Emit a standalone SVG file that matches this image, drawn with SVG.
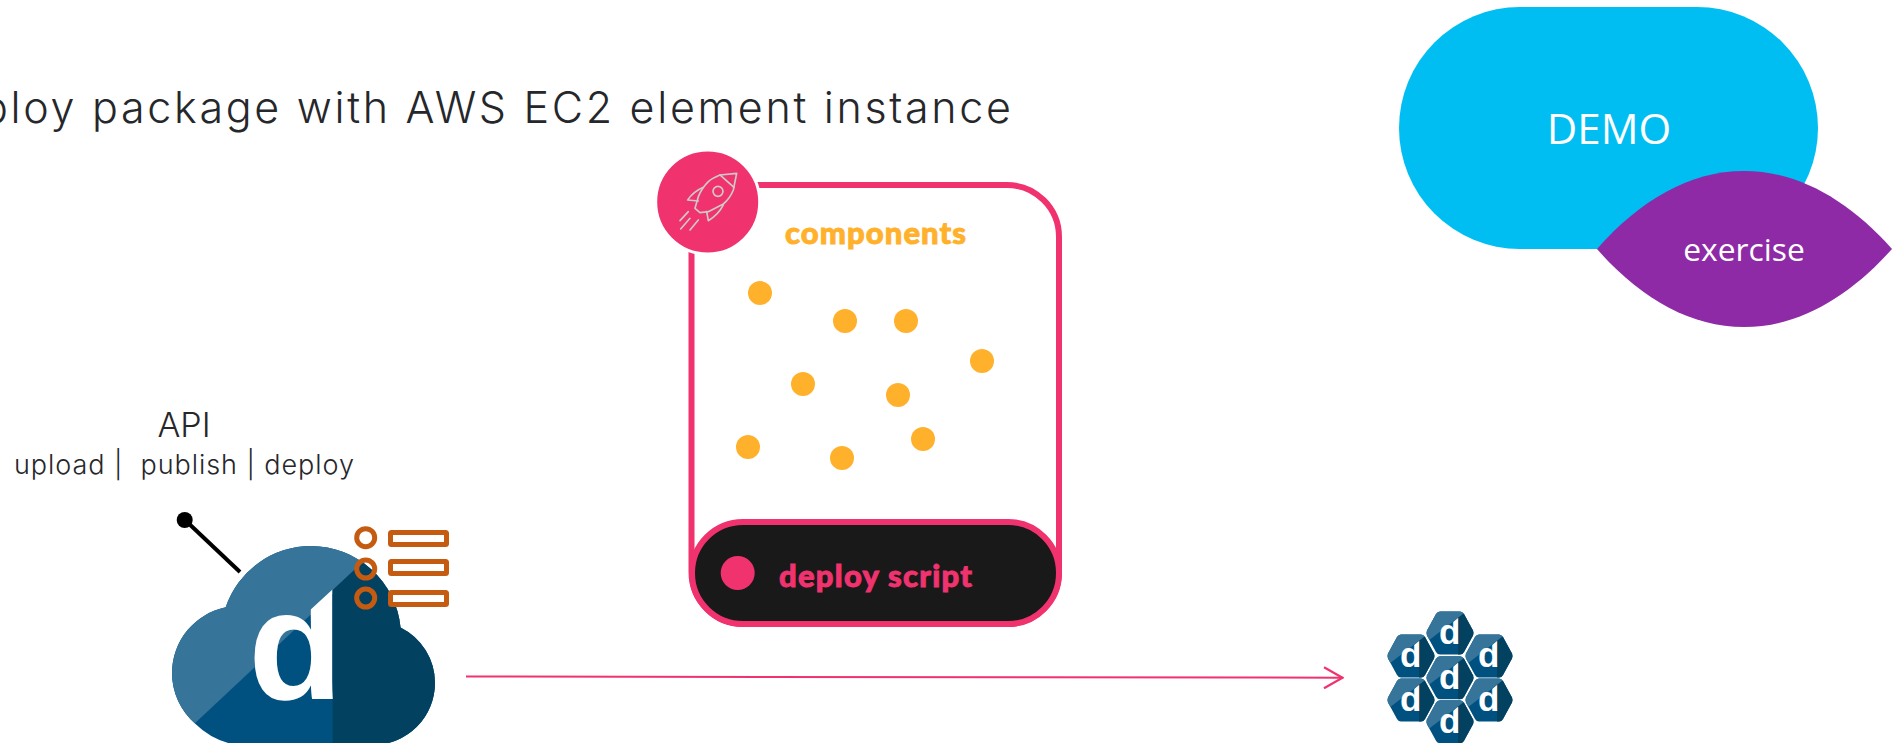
<svg xmlns="http://www.w3.org/2000/svg" width="1901" height="743" viewBox="0 0 1901 743">
<style>
.t{font-family:"Inter","Liberation Sans",sans-serif;fill:#26272b;font-weight:300}
.b{font-family:"Lato","Liberation Sans",sans-serif;font-weight:900;stroke-width:.9}
.o{font-family:"Open Sans","Liberation Sans",sans-serif;fill:#fff;text-anchor:middle}
.dot{fill:#ffb12b}
.ic{fill:none;stroke:#cfc9c9;stroke-width:5;stroke-linejoin:round;stroke-linecap:round}
.or{stroke:#c55a11;stroke-width:5}
.dl{font-family:"Liberation Sans",sans-serif;font-weight:700;fill:#fff;text-anchor:end}
</style>
<defs>
<marker id="arr" viewBox="0 0 22 24" refX="20.5" refY="12" markerWidth="22" markerHeight="24" markerUnits="userSpaceOnUse" orient="auto"><path d="M1.5 1.5L20 12L1.5 22.5" fill="none" stroke="#f0326f" stroke-width="2.2"/></marker>
<clipPath id="cloud"><circle cx="311" cy="636" r="90"/><circle cx="239" cy="673" r="67"/><circle cx="373" cy="683" r="62"/><rect x="239" y="660" width="134" height="90"/><path d="M172 673A78 78 0 0 0 250 746L250 673Z"/></clipPath>
<clipPath id="cloudT"><polygon points="150,612 308,612 333,589 345,589 345,800 150,800"/></clipPath>
<clipPath id="hexC"><path d="M-23 -2.5L-14 -19Q-12.5 -21.5 -10 -21.5L10 -21.5Q12.5 -21.5 14 -19L23 -2.5Q24 0 23 2.5L14 19Q12.5 21.5 10 21.5L-10 21.5Q-12.5 21.5 -14 19L-23 2.5Q-24 0 -23 -2.5Z"/></clipPath>
<clipPath id="hexT"><polygon points="-30,-10 2,-10 8,-15 10,-15 10,30 -30,30"/></clipPath>
<g id="hex">
<g clip-path="url(#hexC)">
<rect x="-25" y="-23" width="50" height="46" fill="#005180"/>
<polygon points="-30,14 17,-22 -30,-22" fill="#36749a"/>
<polygon points="8,-15 17,-22 30,-22 30,25 8,25" fill="#034161"/>
</g>
<text class="dl" x="10.5" y="11" font-size="35" clip-path="url(#hexT)">d</text>
</g>
</defs>
<rect width="1901" height="743" fill="#fff"/>
<text class="t" x="-18" y="123" font-size="43" textLength="1029" lengthAdjust="spacing">ploy package with AWS EC2 element instance</text>
<g id="demo"><rect x="1399" y="7" width="419" height="242" rx="121" fill="#00bef2"/><text class="o" x="1609" y="144" font-size="42">DEMO</text></g>
<g id="exercise"><path d="M1597 249C1640 200 1690 171 1744 171C1798 171 1848 200 1892 249C1848 298 1798 327 1744 327C1690 327 1640 298 1597 249Z" fill="#8e2aa6"/><text class="o" x="1744" y="260.5" font-size="31.8">exercise</text></g>
<g id="package">
<rect x="691.5" y="185" width="367.5" height="439" rx="52" fill="#fff" stroke="#f0326f" stroke-width="6"/>
<text class="b" x="785" y="244" font-size="31" fill="#ffb12b" stroke="#ffb12b" textLength="181" lengthAdjust="spacing">components</text>
<circle class="dot" cx="760" cy="293" r="12"/><circle class="dot" cx="845" cy="321" r="12"/><circle class="dot" cx="906" cy="321" r="12"/><circle class="dot" cx="982" cy="361" r="12"/><circle class="dot" cx="803" cy="384" r="12"/><circle class="dot" cx="898" cy="395" r="12"/><circle class="dot" cx="748" cy="447" r="12"/><circle class="dot" cx="842" cy="458" r="12"/><circle class="dot" cx="923" cy="439" r="12"/>
<rect x="692" y="522" width="367" height="102" rx="51" fill="#191919" stroke="#f0326f" stroke-width="6"/>
<circle cx="737.7" cy="573" r="17" fill="#f0326f"/>
<text class="b" x="779" y="587" font-size="31" fill="#f0326f" stroke="#f0326f" textLength="193" lengthAdjust="spacing">deploy script</text>
<circle cx="707.7" cy="202" r="52" fill="#f0326f" stroke="#fff" stroke-width="3"/>
<g transform="translate(640 130) scale(.3333)" class="ic">
<path d="M290 130L240 135Q215 145 205 155Q185 175 175 200L165 235L180 248L205 245L250 222Q270 205 280 180Z"/><path d="M240 135L282 172"/><circle cx="234" cy="184" r="15"/>
<path d="M190 172Q160 185 143 210L175 213"/><path d="M250 225Q235 255 205 272L200 245"/>
<path d="M145 245L120 272M175 270L150 300M150 265L122 297"/>
</g>
</g>
<g id="api"><text class="t" x="184" y="436.5" font-size="34" text-anchor="middle">API</text>
<text class="t" x="14" y="474" font-size="27" textLength="340" lengthAdjust="spacing" style="white-space:pre">upload |  publish | deploy</text></g>
<g id="cloud-node">
<g clip-path="url(#cloud)">
<rect x="160" y="530" width="290" height="213" fill="#005180"/>
<polygon points="160,756 369,560 370,530 160,530" fill="#36749a"/>
<polygon points="332.7,590 369,556 450,530 450,743 332.7,743" fill="#034161"/>
</g>
<text class="dl" x="343" y="699" font-size="155" clip-path="url(#cloudT)">d</text>
<g fill="none" class="or"><circle cx="365.7" cy="537.7" r="9"/><circle cx="365.7" cy="569" r="9"/><circle cx="365.7" cy="598" r="9"/></g>
<g fill="#fff" class="or"><rect x="390.5" y="532.5" width="56" height="12" rx="1"/><rect x="390.5" y="561.5" width="56" height="12" rx="1"/><rect x="390.5" y="592.5" width="56" height="12" rx="1"/></g>
<circle cx="184.7" cy="520" r="8"/><path d="M185 520L240 572" stroke="#000" stroke-width="4"/>
</g>
<g id="connectors"><path d="M466 676.5L1343 677.7" stroke="#f0326f" stroke-width="2" fill="none" marker-end="url(#arr)"/></g>
<g id="cluster">
<use href="#hex" x="1450" y="633"/><use href="#hex" x="1411" y="656"/><use href="#hex" x="1489" y="656"/><use href="#hex" x="1450" y="677.7"/><use href="#hex" x="1411" y="700"/><use href="#hex" x="1489" y="700"/><use href="#hex" x="1450" y="721.7"/>
</g>
</svg>
